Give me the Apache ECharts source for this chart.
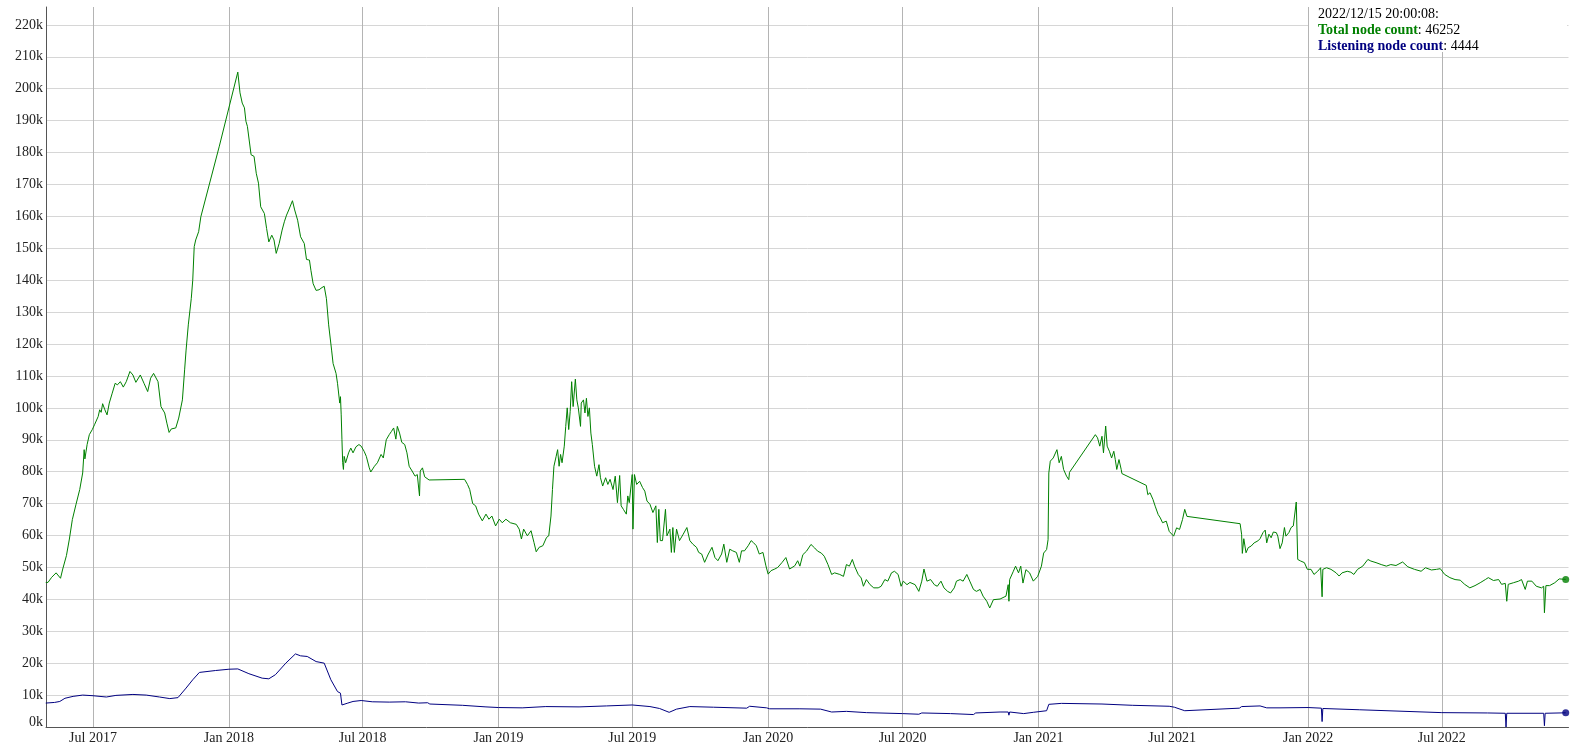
<!DOCTYPE html>
<html><head><meta charset="utf-8">
<script src="https://cdn.jsdelivr.net/npm/echarts@6/dist/echarts.min.js"></script>
<style>html,body{margin:0;padding:0;background:#fff}#c{width:1581px;height:751px}</style>
</head><body><div id="c"></div><script>
// ---- Total node count ----
const total2017 = [
['2017-04-28',45300],['2017-05-01',45300],['2017-05-06',46900],['2017-05-12',48300],['2017-05-18',46600],
['2017-05-21',49500],['2017-05-26',53700],['2017-05-30',58900],['2017-06-03',65000],['2017-06-08',69800],
['2017-06-13',74400],['2017-06-17',79600],['2017-06-19',86900],['2017-06-20',84000],['2017-06-23',88500],
['2017-06-26',91600],['2017-06-30',93200],['2017-07-03',94700],['2017-07-08',97300],['2017-07-10',99400],
['2017-07-12',98600],['2017-07-14',101300],['2017-07-17',99400],['2017-07-20',97800],['2017-07-23',101500],
['2017-07-27',104600],['2017-07-31',107700],['2017-08-03',107200],['2017-08-07',108200],['2017-08-11',106500],
['2017-08-15',108200],['2017-08-20',111400],['2017-08-24',110300],['2017-08-28',108000],['2017-09-03',110300],
['2017-09-08',107700],['2017-09-13',105100],['2017-09-17',109300],['2017-09-21',110800],['2017-09-27',108200],
['2017-10-01',100400],['2017-10-06',98400],['2017-10-09',95200],['2017-10-12',92300],['2017-10-15',93400],
['2017-10-21',93700],['2017-10-25',96800],['2017-10-30',102500],['2017-11-02',111900],['2017-11-04',118100],
['2017-11-07',126000],['2017-11-11',134200],['2017-11-13',140000],['2017-11-15',150500],['2017-11-17',152600],
['2017-11-21',155200],['2017-11-24',159900],['2017-12-19',182000]
];
const total2018 = [
['2018-01-13',205200],['2018-01-16',198700],['2018-01-19',195500],['2018-01-22',194000],['2018-01-24',189800],
['2018-01-26',188200],['2018-01-31',179300],['2018-02-04',178800],['2018-02-07',173500],['2018-02-10',170400],
['2018-02-13',163000],['2018-02-18',160900],['2018-02-21',156200],['2018-02-24',152000],['2018-02-28',154100],
['2018-03-03',152600],['2018-03-06',148400],['2018-03-10',151500],['2018-03-14',155700],['2018-03-17',158300],
['2018-03-20',160400],['2018-03-23',162000],['2018-03-28',164900],['2018-03-31',162000],['2018-04-04',158800],
['2018-04-08',153600],['2018-04-13',151500],['2018-04-16',146500],['2018-04-20',146300],['2018-04-22',143100],
['2018-04-25',138900],['2018-04-29',136800],['2018-05-03',137000],['2018-05-07',137700],['2018-05-10',138100],
['2018-05-13',134200],['2018-05-16',126000],['2018-05-20',118100],['2018-05-22',113900],['2018-05-26',110800],
['2018-05-28',107700],['2018-05-31',101500],['2018-06-01',103500],['2018-06-02',97800],['2018-06-03',90000],
['2018-06-04',82800],['2018-06-05',80700],['2018-06-06',84800],['2018-06-08',82800],['2018-06-12',85900],
['2018-06-15',87400],['2018-06-18',85900],['2018-06-22',87800],['2018-06-26',88500],['2018-06-29',88000],
['2018-07-03',86400],['2018-07-06',84800],['2018-07-10',81200],['2018-07-12',79900],['2018-07-17',81700],
['2018-07-21',82800],['2018-07-26',85400],['2018-07-29',84300],['2018-08-02',90000],['2018-08-06',91600],
['2018-08-09',92600],['2018-08-12',93700],['2018-08-15',90200],['2018-08-17',94200],['2018-08-20',92100],
['2018-08-23',89200],['2018-08-27',88500],['2018-08-30',85900],['2018-09-02',81700],['2018-09-06',80200],
['2018-09-10',78600],['2018-09-13',79100],['2018-09-16',72400],['2018-09-17',80200],['2018-09-20',81200],
['2018-09-23',78400],['2018-09-29',77400],['2018-11-16',77600],['2018-11-18',77800],['2018-11-20',76000],
['2018-11-23',74400],['2018-11-27',70000],['2018-12-01',69300],['2018-12-05',66700],['2018-12-10',64600],
['2018-12-15',66700],['2018-12-19',65100],['2018-12-23',66100],['2018-12-28',63000]
];
const total2019 = [
['2019-01-02',65100],['2019-01-06',64000],['2019-01-11',65100],['2019-01-17',64000],['2019-01-25',63500],
['2019-01-29',62000],['2019-02-01',58900],['2019-02-04',62000],['2019-02-09',59900],['2019-02-14',61500],
['2019-02-18',57800],['2019-02-21',54900],['2019-02-25',56300],['2019-03-02',56800],['2019-03-07',59400],
['2019-03-10',59900],['2019-03-13',66100],['2019-03-15',74400],['2019-03-17',81700],['2019-03-20',84800],
['2019-03-22',86900],['2019-03-24',81700],['2019-03-26',85400],['2019-03-28',82800],['2019-03-31',88000],
['2019-04-02',94200],['2019-04-04',100000],['2019-04-06',93200],['2019-04-08',98900],['2019-04-10',108200],
['2019-04-12',100400],['2019-04-15',109000],['2019-04-17',102500],['2019-04-19',100000],['2019-04-22',94200],
['2019-04-23',101500],['2019-04-26',102500],['2019-04-28',98400],['2019-04-30',103000],['2019-05-02',97300],
['2019-05-04',100000],['2019-05-06',92100],['2019-05-08',88500],['2019-05-11',81700],['2019-05-14',78600],
['2019-05-17',82200],['2019-05-19',78100],['2019-05-22',75500],['2019-05-26',78100],['2019-05-29',76000],
['2019-06-01',77600],['2019-06-05',74400],['2019-06-08',78600],['2019-06-11',70300],['2019-06-14',78800],
['2019-06-16',69300],['2019-06-19',68200],['2019-06-23',66700],['2019-06-25',72400],['2019-06-27',70300],
['2019-07-01',79100],['2019-07-02',62000],['2019-07-04',79100],['2019-07-07',76000],['2019-07-11',77000],
['2019-07-15',75000],['2019-07-18',73900],['2019-07-21',70800],['2019-07-25',69800],['2019-07-29',67200],
['2019-08-02',69300],['2019-08-04',57800],['2019-08-06',68200],['2019-08-08',58400],['2019-08-11',58400],
['2019-08-15',68200],['2019-08-17',59900],['2019-08-21',62000],['2019-08-23',54700],['2019-08-25',62500],
['2019-08-27',54700],['2019-08-30',62000],['2019-09-03',58400],['2019-09-08',60400],['2019-09-13',62500],
['2019-09-17',58400],['2019-09-21',57300],['2019-09-26',56300],['2019-09-29',54700],['2019-10-03',54200],
['2019-10-07',51600],['2019-10-12',54200],['2019-10-17',56300],['2019-10-21',53100],['2019-10-25',52100],
['2019-10-30',54200],['2019-11-02',57300],['2019-11-06',51600],['2019-11-10',55700],['2019-11-14',55200],
['2019-11-19',54700],['2019-11-23',51600],['2019-11-26',55200],['2019-11-30',55200],['2019-12-05',56800],
['2019-12-09',58400],['2019-12-12',57800],['2019-12-16',56800],['2019-12-20',54200],['2019-12-25',54700],
['2019-12-29',50500]
];
const total2020 = [
['2020-01-01',47900],['2020-01-05',49000],['2020-01-10',49500],['2020-01-14',50000],['2020-01-20',51600],
['2020-01-25',53100],['2020-01-30',49500],['2020-02-06',50500],['2020-02-10',52100],['2020-02-13',50400],
['2020-02-17',54000],['2020-02-22',55100],['2020-02-28',57200],['2020-03-04',56100],['2020-03-08',55100],
['2020-03-13',54500],['2020-03-17',53500],['2020-03-22',50900],['2020-03-27',47800],['2020-03-31',48300],
['2020-04-07',47800],['2020-04-12',47200],['2020-04-16',50900],['2020-04-20',50400],['2020-04-24',52500],
['2020-04-27',50400],['2020-05-02',47800],['2020-05-06',46700],['2020-05-09',44100],['2020-05-13',46200],
['2020-05-18',44600],['2020-05-23',43600],['2020-05-29',43600],['2020-06-02',44100],['2020-06-07',46200],
['2020-06-11',45700],['2020-06-16',48300],['2020-06-20',48800],['2020-06-25',47800],['2020-06-29',44100],
['2020-07-02',45700],['2020-07-07',44600],['2020-07-11',45300],['2020-07-18',44600],['2020-07-23',42500],
['2020-07-27',45700],['2020-07-30',49500],['2020-08-03',45700],['2020-08-08',46200],['2020-08-13',44600],
['2020-08-17',44100],['2020-08-22',45700],['2020-08-26',43600],['2020-08-31',42500],['2020-09-04',42000],
['2020-09-09',43600],['2020-09-12',45700],['2020-09-17',46200],['2020-09-21',45700],['2020-09-26',47800],
['2020-09-30',45700],['2020-10-05',43100],['2020-10-09',42500],['2020-10-14',43100],['2020-10-18',41000],
['2020-10-23',39400],['2020-10-27',37300],['2020-11-01',39900],['2020-11-10',40100],['2020-11-18',41000],
['2020-11-21',44600],['2020-11-22',39400],['2020-11-23',46200],['2020-11-28',48800],['2020-12-01',50400],
['2020-12-05',48300],['2020-12-08',50400],['2020-12-11',45100],['2020-12-15',49300],['2020-12-20',48300],
['2020-12-25',45700],['2020-12-31',47200]
];
const total2021 = [
['2021-01-05',50400],['2021-01-08',54500],['2021-01-12',55600],['2021-01-14',58700],['2021-01-15',79600],
['2021-01-17',83300],['2021-01-21',84300],['2021-01-23',83800],['2021-01-26',86900],['2021-01-29',82800],
['2021-02-01',84800],['2021-02-04',80700],['2021-02-08',78600],['2021-02-11',77500],['2021-02-12',79800],
['2021-03-19',91600],['2021-03-22',90600],['2021-03-25',88000],['2021-03-28',91100],['2021-03-30',85900],
['2021-04-02',94300],['2021-04-04',88000],['2021-04-07',86400],['2021-04-10',84300],['2021-04-13',86400],
['2021-04-15',83800],['2021-04-17',80700],['2021-04-20',83800],['2021-04-23',80700],['2021-04-24',79400],
['2021-05-27',75700],['2021-05-29',72800],['2021-06-01',73400],['2021-06-05',71300],['2021-06-08',69200],
['2021-06-12',66600],['2021-06-15',65500],['2021-06-18',64000],['2021-06-23',64500],['2021-06-27',61300],
['2021-07-03',59800],['2021-07-07',62400],['2021-07-11',61900],['2021-07-15',65000],['2021-07-18',68200],
['2021-07-21',66000],['2021-07-23',65600],['2021-10-01',63700],['2021-10-03',60400],['2021-10-04',54400],
['2021-10-06',59000],['2021-10-09',54600],['2021-10-12',56200],['2021-10-16',56700],['2021-10-20',57700],
['2021-10-25',58300],['2021-10-28',59000],['2021-11-01',60900],['2021-11-04',61700],['2021-11-06',57700],
['2021-11-09',60400],['2021-11-12',59300],['2021-11-15',61100],['2021-11-19',60900],['2021-11-21',59800],
['2021-11-24',55900],['2021-11-27',57700],['2021-11-30',62500],['2021-12-02',59800],['2021-12-06',60900],
['2021-12-09',62500],['2021-12-12',63000],['2021-12-14',62500],['2021-12-16',70500],['2021-12-18',52500],
['2021-12-22',52000],['2021-12-27',51500],['2021-12-31',49400]
];
const total2022 = [
['2022-01-05',49400],['2022-01-09',47800],['2022-01-14',48800],['2022-01-18',49900],['2022-01-20',40800],
['2022-01-21',49400],['2022-01-26',49900],['2022-02-01',49400],['2022-02-08',48300],['2022-02-12',47300],
['2022-02-16',48300],['2022-02-23',48800],['2022-02-28',48500],['2022-03-04',47800],['2022-03-09',49400],
['2022-03-16',50400],['2022-03-23',52500],['2022-03-27',52000],['2022-04-03',51500],['2022-04-10',50900],
['2022-04-17',50400],['2022-04-23',50900],['2022-04-30',50600],['2022-05-09',51700],['2022-05-16',50200],
['2022-05-25',49400],['2022-06-03',48800],['2022-06-09',49900],['2022-06-17',49200],['2022-06-24',49400],
['2022-06-29',49600],['2022-07-05',47800],['2022-07-12',46800],['2022-07-19',46200],['2022-07-26',46000],
['2022-08-01',44700],['2022-08-08',43600],['2022-08-15',44300],['2022-08-22',45200],['2022-08-29',46200],
['2022-09-02',46800],['2022-09-09',45900],['2022-09-16',46200],['2022-09-20',44700],['2022-09-25',45000],
['2022-09-27',39400],['2022-09-29',44700],['2022-10-06',45200],['2022-10-13',45700],['2022-10-17',46200],
['2022-10-22',43100],['2022-10-25',45700],['2022-10-31',45700],['2022-11-06',44100],['2022-11-13',43600],
['2022-11-16',44100],['2022-11-17',35800],['2022-11-19',44300],['2022-11-24',44300],['2022-12-01',45200],
['2022-12-07',46400],['2022-12-15 20:00:08',46252]
];
// ---- Listening node count ----
const listen2017 = [
['2017-04-28',7500],['2017-05-10',7700],['2017-05-17',8000],['2017-05-24',9000],['2017-06-04',9600],
['2017-06-17',10000],['2017-07-01',9800],['2017-07-19',9400],['2017-08-01',9900],['2017-08-24',10200],
['2017-09-11',10000],['2017-09-29',9400],['2017-10-13',8900],['2017-10-24',9200],['2017-11-04',12200],
['2017-11-13',14800],['2017-11-22',17100],['2017-12-14',17700]
];
const listen2018 = [
['2018-01-01',18100],['2018-01-13',18200],['2018-01-28',16700],['2018-02-15',15300],['2018-02-24',15100],
['2018-03-05',16400],['2018-03-19',20000],['2018-04-01',22900],['2018-04-08',22300],['2018-04-17',22100],
['2018-04-29',20500],['2018-05-10',20000],['2018-05-19',14800],['2018-05-28',11100],['2018-06-01',10600],
['2018-06-02',10800],['2018-06-03',6900],['2018-06-11',7500],['2018-06-18',8000],['2018-06-29',8300],
['2018-07-14',7900],['2018-08-06',7800],['2018-08-28',7900],['2018-09-15',7500],['2018-09-27',7600],
['2018-09-30',7200],['2018-11-13',6800],['2018-12-15',6300]
];
const listen2019 = [
['2019-01-01',6100],['2019-02-02',6000],['2019-03-06',6400],['2019-04-20',6300],['2019-05-27',6600],
['2019-07-01',6900],['2019-07-25',6400],['2019-08-07',5800],['2019-08-20',4600],['2019-08-30',5600],
['2019-09-17',6400],['2019-10-19',6200],['2019-12-03',5900],['2019-12-07',6500],['2019-12-30',6000]
];
const listen2020 = [
['2020-01-03',5700],['2020-02-13',5700],['2020-03-12',5600],['2020-03-27',4700],['2020-04-16',4900],
['2020-05-13',4500],['2020-07-01',4200],['2020-07-23',4000],['2020-07-27',4400],['2020-09-04',4200],
['2020-10-05',3900],['2020-10-08',4400],['2020-11-10',4700],['2020-11-21',4700],['2020-11-22',3700],
['2020-11-23',4700],['2020-12-12',4200],['2020-12-25',4600]
];
const listen2021 = [
['2021-01-12',5100],['2021-01-15',7100],['2021-02-01',7400],['2021-03-28',7200],['2021-05-08',6800],
['2021-06-27',6500],['2021-07-04',6200],['2021-07-18',5100],['2021-09-30',5900],['2021-10-03',6400],
['2021-10-28',6600],['2021-11-06',6000],['2021-11-24',6000]
];
const listen2022 = [
['2022-01-01',6100],['2022-01-19',5900],['2022-01-20',1700],['2022-01-21',5800],['2022-03-12',5400],
['2022-07-01',4500],['2022-09-01',4400],['2022-09-25',4300],['2022-09-26',0],['2022-09-27',4300],
['2022-11-16',4300],['2022-11-17',400],['2022-11-18',4300],['2022-12-15 20:00:08',4444]
];
// ---- Axis ticks ----
const xTickDates = ['2017-07-01','2018-01-01','2018-07-01','2019-01-01','2019-07-01','2020-01-01',
  '2020-07-01','2021-01-01','2021-07-01','2022-01-01','2022-07-01'];
const xTickLabels = ['Jul 2017','Jan 2018','Jul 2018','Jan 2019','Jul 2019','Jan 2020',
  'Jul 2020','Jan 2021','Jul 2021','Jan 2022','Jul 2022'];
const xRange = ['2017-04-28 08:00', '2022-12-19 14:00'];
const yStep = 10000;
const yTop = 225600;

const FONT = "'Liberation Serif','Times New Roman',serif";
const ts = s => echarts.time.parse(s).getTime();
const toXY = arr => arr.map(d => [ts(d[0]), d[1]]);
const totalRaw = [].concat(total2017, total2018, total2019, total2020, total2021, total2022);
const listenRaw = [].concat(listen2017, listen2018, listen2019, listen2020, listen2021, listen2022);
const totalData = toXY(totalRaw);
const listenData = toXY(listenRaw);
const tickTs = xTickDates.map(ts);
const labelMap = {};
tickTs.forEach((t, i) => labelMap[t] = xTickLabels[i]);
const lastTotal = totalData[totalData.length - 1];
const lastListen = listenData[listenData.length - 1];
const lastDate = echarts.time.format(lastTotal[0], '{yyyy}/{MM}/{dd} {HH}:{mm}:{ss}', false);

const chart = echarts.init(document.getElementById('c'), null, {renderer: 'canvas'});
chart.setOption({
  animation: false,
  backgroundColor: '#fff',
  grid: {left: 46, right: 12.5, top: 7, bottom: 24, containLabel: false},
  xAxis: {
    type: 'value', min: ts(xRange[0]), max: ts(xRange[1]), scale: true,
    axisLine: {show: true, onZero: false, lineStyle: {color: '#555', width: 1}},
    axisTick: {show: false, customValues: tickTs},
    axisLabel: {customValues: tickTs, formatter: v => labelMap[v] || '', fontFamily: FONT, fontSize: 14, color: '#222', margin: 4},
    splitLine: {show: true, lineStyle: {color: '#b4b4b4', width: 1}}
  },
  yAxis: {
    type: 'value', min: 0, max: yTop, interval: yStep,
    axisLine: {show: true, lineStyle: {color: '#555', width: 1}},
    axisTick: {show: false},
    axisLabel: {
      showMaxLabel: false, fontFamily: FONT, fontSize: 14, color: '#222', margin: 3,
      formatter: v => v === 0 ? '{z|0k}' : (v % yStep === 0 ? (v / 1000) + 'k' : ''),
      rich: {z: {fontFamily: FONT, fontSize: 14, color: '#222', padding: [0, 0, 10, 0]}}
    },
    splitLine: {show: true, showMaxLine: false, showMinLine: false, lineStyle: {color: '#d6d6d6', width: 1}}
  },
  series: [
    {type: 'line', name: 'Total node count', data: totalData, showSymbol: false, silent: true,
     lineStyle: {color: '#008000', width: 1}, itemStyle: {color: '#008000'}, z: 3},
    {type: 'line', name: 'Listening node count', data: listenData, showSymbol: false, silent: true,
     lineStyle: {color: '#000080', width: 1}, itemStyle: {color: '#000080'}, z: 3},
    {type: 'scatter', data: [lastTotal], symbolSize: 7, itemStyle: {color: '#008000'}, silent: true, z: 4},
    {type: 'scatter', data: [lastListen], symbolSize: 7, itemStyle: {color: '#000080'}, silent: true, z: 4}
  ],
  graphic: [
    {type: 'rect', shape: {x: 1309, y: 7, width: 258, height: 45}, style: {fill: '#fff'}, z: 100, silent: true},
    {type: 'text', x: 1318, y: 6, z: 101, silent: true, style: {
      text: '{d|' + lastDate + ':}\n{g|Total node count}{n|: ' + lastTotal[1] + '}\n{b|Listening node count}{n|: ' + lastListen[1] + '}',
      fontFamily: FONT, fontSize: 14, lineHeight: 16, fill: '#000',
      rich: {
        d: {fontFamily: FONT, fontSize: 14, lineHeight: 16, fill: '#000'},
        n: {fontFamily: FONT, fontSize: 14, lineHeight: 16, fill: '#000'},
        g: {fontFamily: FONT, fontSize: 14, lineHeight: 16, fill: '#008000', fontWeight: 'bold'},
        b: {fontFamily: FONT, fontSize: 14, lineHeight: 16, fill: '#000080', fontWeight: 'bold'}
      }
    }}
  ]
});
</script></body></html>
